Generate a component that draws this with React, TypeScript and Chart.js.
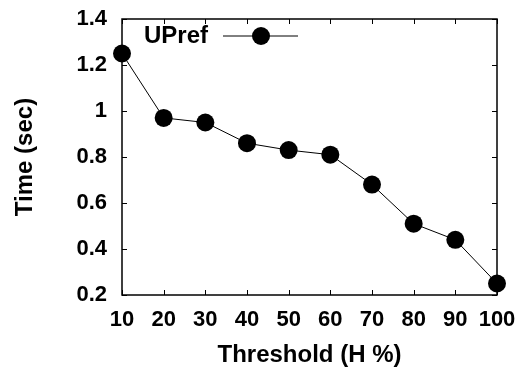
import React, { useEffect, useRef } from "react";
import { Chart, registerables } from "chart.js";

Chart.register(...registerables);

const thresholds = ["10", "20", "30", "40", "50", "60", "70", "80", "90", "100"];
const upref = [1.25, 0.97, 0.95, 0.86, 0.83, 0.81, 0.68, 0.51, 0.44, 0.25];
const seriesLabel = "UPref";
const xTitle = "Threshold (H %)";
const yTitle = "Time (sec)";
const yMin = 0.2;
const yMax = 1.4;
const yStep = 0.2;

const FONT = "'Liberation Sans', Arial, Helvetica, sans-serif";

const framePlugin = {
  id: "frame",
  afterDraw(chart: any) {
    const { ctx, chartArea } = chart;
    const { left, right, top, bottom } = chartArea;
    const xs = chart.scales.x;
    const ys = chart.scales.y;
    ctx.save();
    ctx.strokeStyle = "#000";
    ctx.lineWidth = 1.5;
    ctx.strokeRect(left, top, right - left, bottom - top);
    ctx.lineWidth = 1;
    const tl = 5;
    ctx.beginPath();
    xs.ticks.forEach((_t: any, i: number) => {
      const px = Math.round(xs.getPixelForTick(i)) + 0.5;
      ctx.moveTo(px, bottom);
      ctx.lineTo(px, bottom - tl);
      ctx.moveTo(px, top);
      ctx.lineTo(px, top + tl);
    });
    ys.ticks.forEach((_t: any, i: number) => {
      const py = Math.round(ys.getPixelForTick(i)) + 0.5;
      ctx.moveTo(left, py);
      ctx.lineTo(left + tl, py);
      ctx.moveTo(right, py);
      ctx.lineTo(right - tl, py);
    });
    ctx.stroke();

    // legend
    const ly = top + 17;
    const textRight = left + 86;
    ctx.fillStyle = "#000";
    ctx.font = `bold 24px ${FONT}`;
    ctx.textAlign = "right";
    ctx.textBaseline = "middle";
    ctx.fillText(seriesLabel, textRight, ly);
    ctx.beginPath();
    ctx.moveTo(textRight + 15, ly);
    ctx.lineTo(textRight + 90, ly);
    ctx.lineWidth = 1;
    ctx.stroke();
    ctx.beginPath();
    ctx.arc(textRight + 53, ly, 9, 0, Math.PI * 2);
    ctx.fill();
    ctx.restore();
  },
};

export default function App() {
  const ref = useRef<HTMLCanvasElement | null>(null);
  useEffect(() => {
    document.body.style.margin = "0";
    const canvas = ref.current!;
    const tickFont = { family: FONT, size: 22, weight: "bold" as const };
    const titleFont = { family: FONT, size: 24, weight: "bold" as const };
    const chart = new Chart(canvas, {
      type: "line",
      data: {
        labels: thresholds,
        datasets: [
          {
            label: seriesLabel,
            data: upref,
            borderColor: "#000",
            borderWidth: 1,
            backgroundColor: "#000",
            pointBackgroundColor: "#000",
            pointBorderColor: "#000",
            pointRadius: 9,
            pointBorderWidth: 0,
            tension: 0,
            clip: false as any,
          },
        ],
      },
      options: {
        animation: false,
        responsive: false,
        events: [],
        layout: { padding: { top: 19, right: 27, left: 0, bottom: 0 } },
        plugins: {
          legend: { display: false },
          tooltip: { enabled: false },
        },
        scales: {
          x: {
            type: "category",
            offset: false,
            grid: { display: false, drawTicks: false, tickLength: 0 },
            border: { display: false },
            ticks: {
              font: tickFont,
              color: "#000",
              padding: 12,
              maxRotation: 0,
              autoSkip: false,
            },
            title: {
              display: true,
              text: xTitle,
              font: titleFont,
              color: "#000",
              padding: { top: 0, bottom: -2 },
            },
            afterFit: (s: any) => {
              s.height = 73;
              s.paddingLeft = 0;
              s.paddingRight = 0;
            },
          },
          y: {
            type: "linear",
            min: yMin,
            max: yMax,
            grid: { display: false, drawTicks: false, tickLength: 0 },
            border: { display: false },
            ticks: {
              font: tickFont,
              color: "#000",
              padding: 15,
              stepSize: yStep,
              callback: (v: any) => String(Math.round(Number(v) * 10) / 10),
            },
            title: {
              display: true,
              text: yTitle,
              font: titleFont,
              color: "#000",
              padding: { top: 11, bottom: 0 },
            },
            afterFit: (s: any) => {
              s.width = 122;
              s.paddingTop = 0;
              s.paddingBottom = 0;
            },
          },
        },
      },
      plugins: [framePlugin],
    });
    return () => chart.destroy();
  }, []);
  return (
    <div style={{ width: 524, height: 368, background: "#fff" }}>
      <canvas ref={ref} width={524} height={368} style={{ display: "block" }} />
    </div>
  );
}
